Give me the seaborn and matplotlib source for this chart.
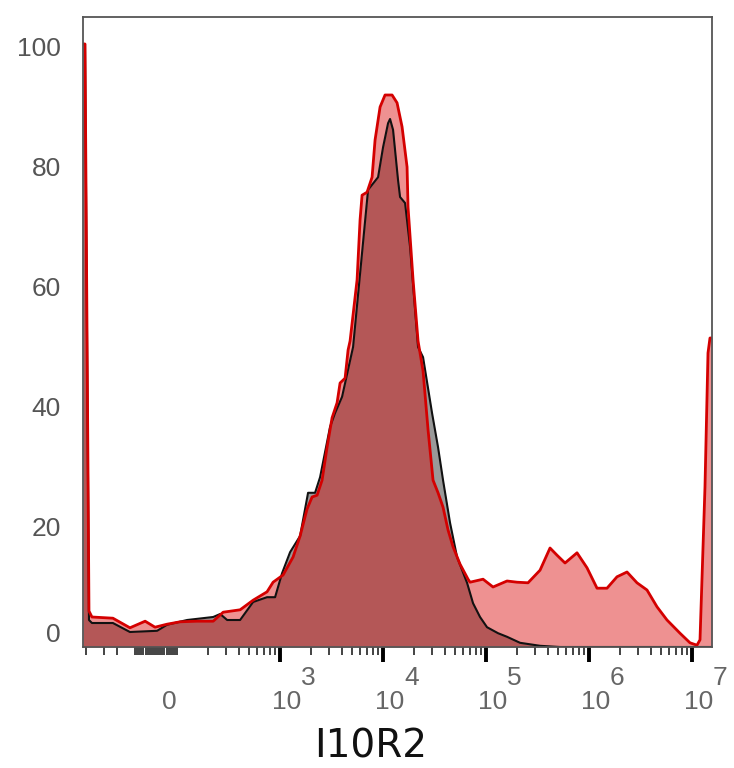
import matplotlib
matplotlib.use("Agg")
import matplotlib.pyplot as plt
import matplotlib.transforms as mtransforms
import seaborn as sns

sns.set_style("white")
plt.rcParams["font.family"] = ["Liberation Sans", "DejaVu Sans"]

# Histogram overlay (fluorescence value, % of max)
red_fluor = [-320, -306, -280, -262, -164, -112, -52, -5, 52, 107, 156, 224, 280,
             409, 547, 747, 855, 1069, 1337, 1564, 1828, 2045, 2287, 2557, 2859,
             3197, 3575, 3823, 4276, 4573, 4781, 5592, 5979, 6252, 6991, 7819,
             8360, 9350, 10450, 12230, 13670, 15290, 17100, 17480, 19550, 21860,
             24450, 27340, 30570, 34190, 38230, 42760, 47810, 55920, 66870, 69910,
             93500, 116900, 159900, 199900, 255700, 334400, 418100, 489000, 584800,
             764500, 956100, 1.196e6, 1.495e6, 1.869e6, 2.338e6, 2.923e6, 3.656e6,
             4.573e6, 5.717e6, 7.645e6, 9.561e6, 1.118e7, 1.196e7, 1.337e7, 1.43e7,
             1.495e7, 1.564e7]
red_count = [100.5, 100.5, 6, 5, 4.8, 3.2, 4.3, 3.3, 3.8, 4.2, 4.3, 4.3, 5.8,
             6.2, 7.8, 9.2, 10.8, 12, 15, 18.5, 23, 25, 25.3, 27.8, 33.3,
             38.2, 40.7, 44, 44.8, 49.5, 51, 61.2, 71.2, 75.3, 75.8, 78.3,
             84.5, 90, 92, 92, 90.7, 86.7, 80, 73.3, 61.2, 51,
             46, 36.2, 27.8, 25.7, 23.3, 19.5, 16.7, 13.8, 11.3, 10.8,
             11.3, 10, 11, 10.8, 10.7, 12.8, 16.5, 15.3, 14,
             15.7, 13.2, 9.8, 9.8, 11.7, 12.5, 10.7, 9.5,
             6.7, 4.5, 2.3, 0.7, 0.3, 1.2, 26.7, 49,
             51.5, 51.5]

black_fluor = [-320, -306, -280, -262, -164, -112, 5, 52, 125, 224, 262, 306, 409,
               547, 747, 894, 1045, 1250, 1564, 1869, 2186, 2445, 3057, 3419, 3997,
               5113, 7150, 8941, 9998, 11180, 11690, 12500, 13980, 14620, 16350,
               18280, 21860, 24450, 29890, 34190, 38230, 44700, 52280, 65390, 74750,
               87420, 102200, 130700, 159900, 213800, 334400, 522800, 1.564e7]
black_count = [100.5, 100.5, 4.5, 4.0, 4.0, 2.5, 2.7, 3.7, 4.5, 5.0, 5.5, 4.5, 4.5,
               7.5, 8.3, 8.3, 12.3, 15.8, 18.5, 25.7, 25.7, 28.3, 36.7, 39, 41.7,
               50, 76.2, 78.3, 83.3, 87.3, 88, 86.2, 77.8, 75, 74,
               66.7, 50, 48.3, 39, 33.3, 27.8, 20.7, 15, 10.7, 7.3,
               5, 3.3, 2.3, 1.7, 0.7, 0.2, 0, 0]

y_ticks = [0, 20, 40, 60, 80, 100]
decades = [3, 4, 5, 6, 7]
minor_ticks = ([-300, -200, -150] + list(range(-100, 101, 10)) + list(range(200, 1000, 100))
               + [m * 10 ** d for d in range(3, 7) for m in range(2, 10)])

fig = plt.figure(figsize=(7.34, 7.68), dpi=100)
ax = fig.add_axes([83 / 734, 1 - 647 / 768, 629 / 734, 630 / 768])
ax.set_xscale("symlog", linthresh=100, linscale=0.184)

ax.fill_between(black_fluor, black_count, color="black", alpha=0.40, lw=0)
ax.fill_between(red_fluor, red_count, color="#D80000", alpha=0.43, lw=0)
sns.lineplot(x=black_fluor, y=black_count, ax=ax, color="#111111", lw=1.5, sort=False)
sns.lineplot(x=red_fluor, y=red_count, ax=ax, color="#D40000", lw=2.0, sort=False)

ax.set_xlim(-320, 1.564e7)
ax.set_ylim(0, 105)

for s in ax.spines.values():
    s.set_color("#555555")
    s.set_linewidth(1.3)

ax.set_yticks(y_ticks)
ax.set_yticklabels([str(v) for v in y_ticks], fontsize=19, color="#555555")
ax.tick_params(axis="y", length=0, pad=16)
ax.get_yticklabels()[0].set_va("bottom")

ax.set_xticks([10 ** d for d in decades])
ax.set_xticklabels([])
ax.set_xticks(minor_ticks, minor=True)
ax.tick_params(axis="x", which="both", bottom=True, top=False)
ax.tick_params(axis="x", which="major", direction="out", length=11, width=2.8, color="black")
ax.tick_params(axis="x", which="minor", direction="out", length=6, width=1.2, color="#222222")

trans = mtransforms.blended_transform_factory(ax.transData, ax.transAxes)
ax.annotate("0", xy=(0, 0), xycoords=trans, xytext=(4, -48), textcoords="offset points",
            ha="left", va="bottom", fontsize=19, color="#666666")
for d in decades:
    ax.annotate("10", xy=(10 ** d, 0), xycoords=trans, xytext=(-6, -48),
                textcoords="offset points", ha="left", va="bottom", fontsize=19,
                color="#666666")
    ax.annotate(str(d), xy=(10 ** d, 0), xycoords=trans, xytext=(15, -31),
                textcoords="offset points", ha="left", va="bottom", fontsize=19,
                color="#666666")

ax.set_xlabel("")
ax.set_ylabel("")
fig.text(371 / 734, 1 - 747 / 768, "I10R2", ha="center", va="center", fontsize=28,
         family="DejaVu Sans", color="#111111")

fig.savefig("out.png", dpi=100)
